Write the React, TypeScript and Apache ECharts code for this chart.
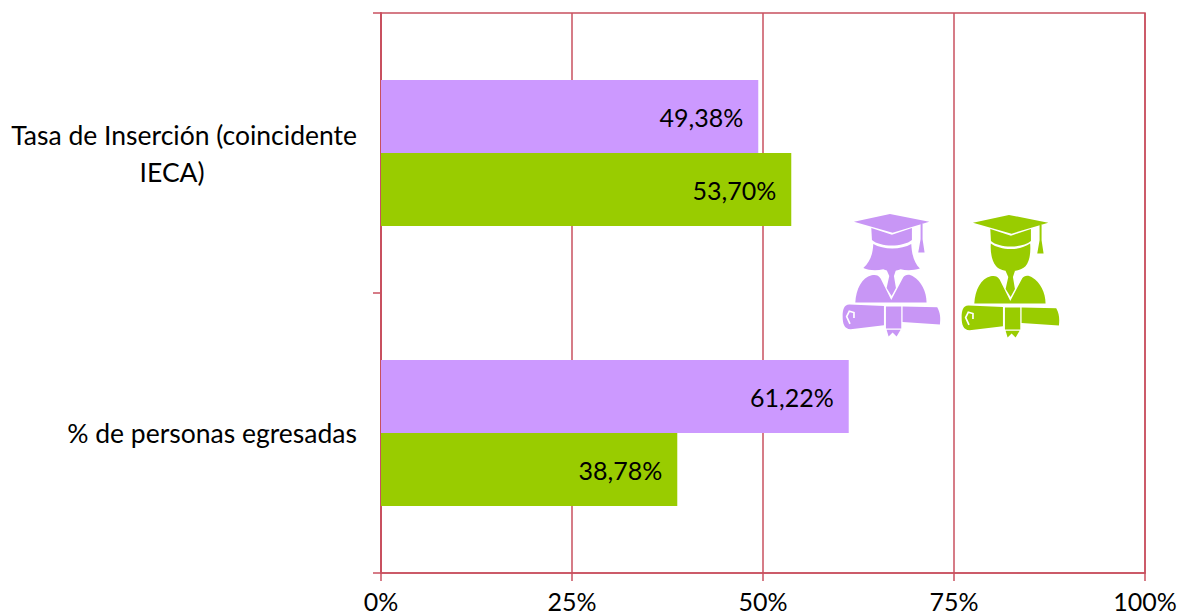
import React, { useEffect, useRef } from "react";
import * as echarts from "echarts";

const categories = ["% de personas egresadas", "Tasa de Inserción (coincidente IECA)"];
const mujeres = [61.22, 49.38];
const hombres = [38.78, 53.7];
const ticks = [0, 25, 50, 75, 100];

const FONT = "Lato, 'Liberation Sans', sans-serif";
const RED = "#c8505f";

const capPath = "M72 65 L180 42 L298 65 L188 98 Z M124 84 L186 104 L246 84 L246 120 C220 142 150 142 126 120 Z";
const tasselPath = "M272 72 L278 72 L278 118 L284 158 L265 158 L272 118 Z";
const tiePath = "M170 210 L198 210 L192 228 L198 264 L185 288 L170 264 L178 228 Z";
const bodyPath = "M76 308 C78 268 96 232 125 226 C138 224 146 226 152 236 L184 300 L220 232 C226 222 240 222 250 230 C274 244 290 276 290 308 Z";
const scrollPath = "M58 314 L162 318 L162 376 L62 388 C42 388 38 370 38 350 C38 330 42 314 58 314 Z M168 320 L214 320 L214 386 L168 386 Z M170 390 L212 390 L200 410 L188 398 L176 410 Z M218 320 L322 322 C332 340 332 356 330 374 L218 366 Z";
const hairPath = "M130 132 C160 150 214 150 244 132 C246 168 254 190 270 206 C250 212 228 212 212 208 C196 214 174 214 160 208 C140 212 118 212 100 204 C120 186 128 166 130 132 Z";
const facePath = "M486 128 C516 150 574 150 604 128 C606 150 604 180 590 196 C570 216 520 216 502 196 C488 180 484 150 486 128 Z";

echarts.graphic.registerShape("gradCap", echarts.graphic.extendPath(capPath, {}));
echarts.graphic.registerShape("gradTassel", echarts.graphic.extendPath(tasselPath, {}));
echarts.graphic.registerShape("gradTie", echarts.graphic.extendPath(tiePath, {}));
echarts.graphic.registerShape("gradBody", echarts.graphic.extendPath(bodyPath, {}));
echarts.graphic.registerShape("gradScroll", echarts.graphic.extendPath(scrollPath, {}));
echarts.graphic.registerShape("gradHair", echarts.graphic.extendPath(hairPath, {}));
echarts.graphic.registerShape("gradFace", echarts.graphic.extendPath(facePath, {}));

function icon(x: number, y: number, color: string, head: string, headX: number) {
  const parts = ["gradCap", "gradTassel", "gradTie", "gradBody", "gradScroll"];
  return {
    type: "group",
    x,
    y,
    scaleX: 1 / 3,
    scaleY: 1 / 3,
    silent: true,
    children: [
      ...parts.map((type) => ({ type, style: { fill: color } })),
      { type: head, x: headX, style: { fill: color } },
      {
        type: "polyline",
        shape: { points: [[60, 372], [50, 350], [58, 334], [72, 338], [72, 354]] },
        style: { stroke: "#ffffff", lineWidth: 5, fill: "none" },
      },
    ],
  };
}

function barSeries(name: string, data: number[], color: string) {
  return {
    name,
    type: "bar",
    data,
    barWidth: 73,
    barGap: "0%",
    itemStyle: { color },
    label: {
      show: true,
      position: "insideRight",
      distance: 15,
      color: "#000000",
      fontFamily: FONT,
      fontSize: 25,
      formatter: (p: any) => p.value.toFixed(2).replace(".", ",") + "%",
    },
  };
}

export default function App() {
  const ref = useRef<HTMLDivElement>(null);
  useEffect(() => {
    const chart = echarts.init(ref.current!, null, { renderer: "svg" });
    chart.setOption({
      animation: false,
      backgroundColor: "#ffffff",
      grid: {
        left: 381,
        right: 33,
        top: 13,
        bottom: 43,
        outerBoundsMode: "none",
        show: true,
        borderColor: RED,
        borderWidth: 1.5,
      },
      xAxis: {
        type: "value",
        min: ticks[0],
        max: ticks[ticks.length - 1],
        interval: ticks[1] - ticks[0],
        axisLine: { show: true, lineStyle: { color: RED, width: 1.5 } },
        axisTick: { show: true, length: 8, lineStyle: { color: RED, width: 1.5 } },
        splitLine: { show: true, lineStyle: { color: RED, width: 1.5 } },
        axisLabel: {
          color: "#000000",
          fontFamily: FONT,
          fontSize: 25,
          margin: 15,
          formatter: (v: number) => v + "%",
        },
      },
      yAxis: {
        type: "category",
        data: categories,
        axisLine: { show: true, lineStyle: { color: RED, width: 2 } },
        axisTick: { show: true, length: 8, lineStyle: { color: RED, width: 1.5 } },
        axisLabel: {
          color: "#000000",
          fontFamily: FONT,
          fontSize: 26.5,
          margin: 24,
          formatter: (v: string) => {
            if (v.endsWith(" IECA)")) {
              return "{a|" + v.slice(0, -6) + "}\n{b|IECA)}";
            }
            return "{a|" + v + "}";
          },
          rich: {
            a: { fontFamily: FONT, fontSize: 26.5, color: "#000000", lineHeight: 37 },
            b: {
              fontFamily: FONT,
              fontSize: 26.5,
              color: "#000000",
              lineHeight: 37,
              align: "center",
              padding: [0, 24, 0, 0],
            },
          },
        },
      },
      series: [
        barSeries("Mujeres", mujeres, "#cc99ff"),
        barSeries("Hombres", hombres, "#99cc00"),
      ],
      graphic: {
        elements: [
          icon(830, 200, "#c896f5", "gradHair", 0),
          icon(949, 201, "#99cc00", "gradFace", -360),
        ],
      },
    });
    return () => chart.dispose();
  }, []);
  return <div ref={ref} style={{ position: "fixed", left: 0, top: 0, width: 1178, height: 616 }} />;
}
